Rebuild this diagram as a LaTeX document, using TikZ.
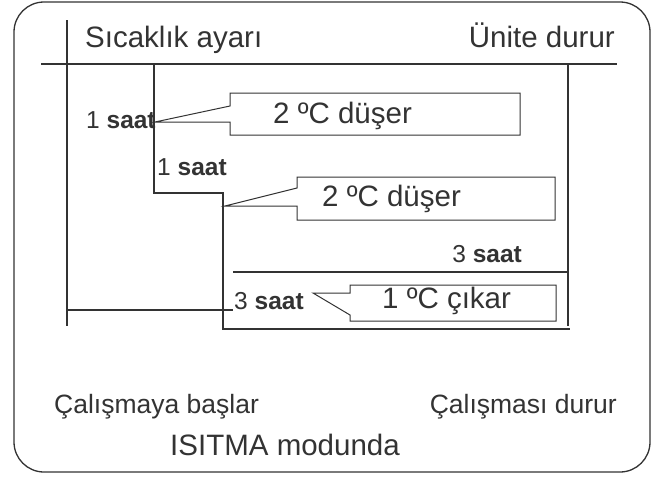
\documentclass[tikz,border=0pt]{standalone}
\usepackage{fontspec}
\setmainfont{Liberation Sans}
\definecolor{ink}{HTML}{333333}
\tikzset{
	tline/.style={draw=ink,line width=1.4},
	callout/.style={draw=ink,line width=1},
	lbl/.style={inner sep=0,text=ink,font=\fontsize{29.5}{31}\selectfont},
	lblsmall/.style={inner sep=0,text=ink,font=\fontsize{26.5}{28}\selectfont},
	saat/.style={inner sep=0,text=ink,font=\fontsize{24.5}{26}\selectfont}
}
\begin{document}
\begin{tikzpicture}[x=1pt,y=-1pt,line join=miter]
	\useasboundingbox (0,0) rectangle (664,477);
	% khung
	\path[draw=ink,line width=1.3,rounded corners=30] (14,2) rectangle (650,472);
	
	% cac moc
	\coordinate (a0) at (67,20);   \coordinate (a1) at (67,326);
	\coordinate (t0) at (41,64);   \coordinate (t1) at (617,64);
	\coordinate (s0) at (154,64);  \coordinate (s1) at (154,193);
	\coordinate (s2) at (223,193); \coordinate (s3) at (223,329);
	\coordinate (s4) at (570,329);
	\coordinate (r0) at (568,64);  \coordinate (r1) at (568,326);
	\coordinate (h0) at (233,272); \coordinate (h1) at (568,272);
	\coordinate (b0) at (67,310);  \coordinate (b1) at (233,310);
	
	% duong thoi gian
	\path[tline] (a0) -- (a1);
	\path[tline] (t0) -- (t1);
	\path[tline] (s0) -- (s1) -- (s2) -- (s3) -- (s4);
	\path[tline] (r0) -- (r1);
	\path[draw=ink,line width=2.8] (h0) -- (h1);
	\path[tline] (b0) -- (b1);
	
	% khung chu thich
	\path[callout] (230,93) -| (520,135) -| (230,122) -- (155,122) -- (230,106) -- cycle;
	\path[callout] (297,177) -| (555,220) -| (297,206) -- (225,206) -- (297,188) -- cycle;
	\path[callout] (350,285) -| (556,321) -| (350,315) -- (313,293) -- (350,293) -- cycle;
	
	% chu
	\node[lbl,anchor=base west] (ayar) at (85,47) {Sıcaklık ayarı};
	\node[lbl,anchor=base east] (unite) at (615,47) {Ünite durur};
	\node[lbl,anchor=base west] (dus1) at (273,123) {2 ºC düşer};
	\node[lbl,anchor=base west] (dus2) at (322,206) {2 ºC düşer};
	\node[lbl,anchor=base west] (cik) at (382,308) {1 ºC çıkar};
	
	\node[saat,anchor=base west] (saat1) at (86,128) {1 \textbf{saat}};
	\node[saat,anchor=base west] (saat2) at (157,175) {1 \textbf{saat}};
	\node[saat,anchor=base east] (saat3) at (522,262) {3 \textbf{saat}};
	\node[saat,anchor=base west] (saat4) at (234,309) {3 \textbf{saat}};
	
	\node[lblsmall,anchor=base west] (basla) at (54,413) {Çalışmaya başlar};
	\node[lblsmall,anchor=base east] (dur) at (617,413) {Çalışması durur};
	\node[lbl,anchor=base] (mod) at (285,455) {ISITMA modunda};
\end{tikzpicture}
\end{document}
